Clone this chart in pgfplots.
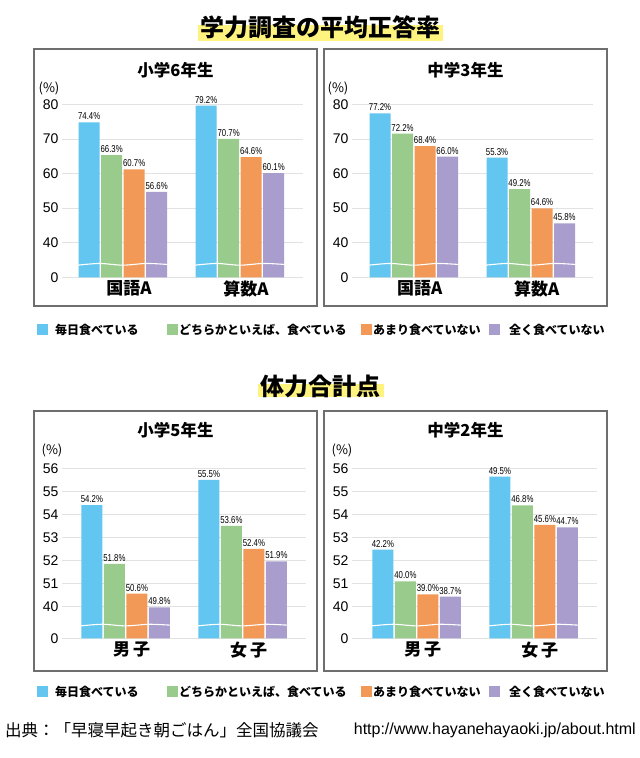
\documentclass[border=0pt]{standalone}
\usepackage{pgfplots}
\pgfplotsset{compat=1.18}
\usepackage{fontspec}
\setmainfont{Noto Sans CJK JP}
\newfontfamily\numfont{Liberation Sans}
\newfontfamily\narrowfont[FakeStretch=0.78]{Liberation Sans}
\definecolor{cblue}{RGB}{99,198,240}
\definecolor{cgreen}{RGB}{153,204,140}
\definecolor{corange}{RGB}{242,153,88}
\definecolor{cpurple}{RGB}{168,157,204}
\definecolor{hl}{RGB}{255,243,128}
\definecolor{framec}{RGB}{110,110,110}
\definecolor{gridc}{RGB}{226,226,226}
\pgfplotsset{
  panel/.style={
    anchor=south west,
    ybar=1.5bp, bar width=21bp,
    x=117bp,
    axis line style={draw=none},
    major tick length=0pt,
    xtick={0,1},
    ymajorgrids, grid style={gridc, line width=0.7bp},
    tick label style={font=\numfont\fontsize{14bp}{14bp}\selectfont},
    xticklabel style={font=\bfseries\fontsize{17bp}{17bp}\selectfont, xshift=6bp},
    /pgf/number format/assume math mode=true,
    nodes near coords,
    point meta=explicit symbolic,
    every node near coord/.append style={font=\narrowfont\fontsize{10bp}{10bp}\selectfont, inner sep=2.2bp, black},
  },
  toppanel/.style={panel, ymin=30, ymax=85, y=3.46bp,
    ytick={30,40,50,60,70,80}, yticklabels={0,40,50,60,70,80},
    xticklabels={国語A,算数A}},
  botpanel/.style={panel, ymin=48.61, ymax=56.7, y=23bp,
    ytick={48.61,50,51,52,53,54,55,56}, yticklabels={0,40,51,52,53,54,55,56},
    xticklabels={男\,子,女\,子}},
}
\newcommand{\legendrow}[1]{%
  \fill[cblue] (37bp,#1bp-5.5bp) rectangle (48bp,#1bp+5.5bp);
  \node[anchor=west, inner sep=0, font=\bfseries\fontsize{12bp}{12bp}\selectfont] at (55bp,#1bp) {毎日食べている};
  \fill[cgreen] (167bp,#1bp-5.5bp) rectangle (178bp,#1bp+5.5bp);
  \node[anchor=west, inner sep=0, font=\bfseries\fontsize{12bp}{12bp}\selectfont] at (179bp,#1bp) {どちらかといえば、食べている};
  \fill[corange] (361bp,#1bp-5.5bp) rectangle (372bp,#1bp+5.5bp);
  \node[anchor=west, inner sep=0, font=\bfseries\fontsize{12bp}{12bp}\selectfont] at (373bp,#1bp) {あまり食べていない};
  \fill[cpurple] (489bp,#1bp-5.5bp) rectangle (500bp,#1bp+5.5bp);
  \node[anchor=west, inner sep=0, font=\bfseries\fontsize{12bp}{12bp}\selectfont] at (509bp,#1bp) {全く食べていない};
}
\begin{document}
\begin{tikzpicture}
\path[use as bounding box, fill=white] (0bp,0bp) rectangle (640bp,758bp);
% titles
\fill[hl] (198bp,717bp) rectangle (443bp,733bp);
\node[font=\bfseries\fontsize{24bp}{24bp}\selectfont, inner sep=0] at (320bp,731bp) {学力調査の平均正答率};
\fill[hl] (258bp,361bp) rectangle (384bp,374bp);
\node[font=\bfseries\fontsize{24bp}{24bp}\selectfont, inner sep=0] at (320bp,372bp) {体力合計点};
% frames
\draw[framec, line width=1.5bp] (34bp,709bp) rectangle (317bp,452bp);
\draw[framec, line width=1.5bp] (324bp,709bp) rectangle (607bp,452bp);
\draw[framec, line width=1.5bp] (34bp,347bp) rectangle (317bp,87bp);
\draw[framec, line width=1.5bp] (324bp,347bp) rectangle (607bp,87bp);
% panel titles
\node[font=\bfseries\fontsize{16.5bp}{16.5bp}\selectfont] at (175.5bp,688bp) {小学6年生};
\node[font=\bfseries\fontsize{16.5bp}{16.5bp}\selectfont] at (465.5bp,688bp) {中学3年生};
\node[font=\bfseries\fontsize{16.5bp}{16.5bp}\selectfont] at (175.5bp,328bp) {小学5年生};
\node[font=\bfseries\fontsize{16.5bp}{16.5bp}\selectfont] at (465.5bp,328bp) {中学2年生};
\node[font=\fontsize{13bp}{13bp}\selectfont] at (49bp,670bp) {(\%)};
\node[font=\fontsize{13bp}{13bp}\selectfont] at (338bp,670bp) {(\%)};
\node[font=\fontsize{13bp}{13bp}\selectfont] at (52bp,308bp) {(\%)};
\node[font=\fontsize{13bp}{13bp}\selectfont] at (342bp,308bp) {(\%)};

% ---------- top left
\begin{axis}[toppanel, at={(62bp,480.7bp)}, xmin=-0.521, xmax=1.538]
\addplot[fill=cblue, draw=none] coordinates {(0,74.8) [74.4\%] (1,79.6) [79.2\%]};
\addplot[fill=cgreen, draw=none] coordinates {(0,65.3) [66.3\%] (1,70.0) [70.7\%]};
\addplot[fill=corange, draw=none] coordinates {(0,61.2) [60.7\%] (1,64.7) [64.6\%]};
\addplot[fill=cpurple, draw=none] coordinates {(0,54.7) [56.6\%] (1,60.1) [60.1\%]};
\draw[white, line width=1.1bp] plot[smooth] coordinates {(axis cs:-0.385,33.5) (axis cs:-0.2,34.0) (axis cs:0,33.5) (axis cs:0.2,34.0) (axis cs:0.385,33.7)};
\draw[white, line width=1.1bp] plot[smooth] coordinates {(axis cs:0.615,33.5) (axis cs:0.8,34.0) (axis cs:1,33.5) (axis cs:1.2,34.0) (axis cs:1.385,33.7)};
\end{axis}
% ---------- top right
\begin{axis}[toppanel, at={(352bp,480.7bp)}, xmin=-0.528, xmax=1.532]
\addplot[fill=cblue, draw=none] coordinates {(0,77.4) [77.2\%] (1,64.6) [55.3\%]};
\addplot[fill=cgreen, draw=none] coordinates {(0,71.5) [72.2\%] (1,55.5) [49.2\%]};
\addplot[fill=corange, draw=none] coordinates {(0,67.9) [68.4\%] (1,49.9) [64.6\%]};
\addplot[fill=cpurple, draw=none] coordinates {(0,64.9) [66.0\%] (1,45.6) [45.8\%]};
\draw[white, line width=1.1bp] plot[smooth] coordinates {(axis cs:-0.385,33.5) (axis cs:-0.2,34.0) (axis cs:0,33.5) (axis cs:0.2,34.0) (axis cs:0.385,33.7)};
\draw[white, line width=1.1bp] plot[smooth] coordinates {(axis cs:0.615,33.5) (axis cs:0.8,34.0) (axis cs:1,33.5) (axis cs:1.2,34.0) (axis cs:1.385,33.7)};
\end{axis}
% ---------- bottom left
\begin{axis}[botpanel, at={(62bp,119.7bp)}, xmin=-0.544, xmax=1.541]
\addplot[fill=cblue, draw=none] coordinates {(0,54.4) [54.2\%] (1,55.5) [55.5\%]};
\addplot[fill=cgreen, draw=none] coordinates {(0,51.85) [51.8\%] (1,53.5) [53.6\%]};
\addplot[fill=corange, draw=none] coordinates {(0,50.55) [50.6\%] (1,52.5) [52.4\%]};
\addplot[fill=cpurple, draw=none] coordinates {(0,49.95) [49.8\%] (1,51.95) [51.9\%]};
\draw[white, line width=1.1bp] plot[smooth] coordinates {(axis cs:-0.385,49.15) (axis cs:-0.2,49.22) (axis cs:0,49.15) (axis cs:0.2,49.22) (axis cs:0.385,49.18)};
\draw[white, line width=1.1bp] plot[smooth] coordinates {(axis cs:0.615,49.15) (axis cs:0.8,49.22) (axis cs:1,49.15) (axis cs:1.2,49.22) (axis cs:1.385,49.18)};
\end{axis}
% ---------- bottom right
\begin{axis}[botpanel, at={(352bp,119.7bp)}, xmin=-0.553, xmax=1.541]
\addplot[fill=cblue, draw=none] coordinates {(0,52.46) [42.2\%] (1,55.64) [49.5\%]};
\addplot[fill=cgreen, draw=none] coordinates {(0,51.09) [40.0\%] (1,54.39) [46.8\%]};
\addplot[fill=corange, draw=none] coordinates {(0,50.52) [39.0\%] (1,53.54) [45.6\%]};
\addplot[fill=cpurple, draw=none] coordinates {(0,50.42) [38.7\%] (1,53.43) [44.7\%]};
\draw[white, line width=1.1bp] plot[smooth] coordinates {(axis cs:-0.385,49.15) (axis cs:-0.2,49.22) (axis cs:0,49.15) (axis cs:0.2,49.22) (axis cs:0.385,49.18)};
\draw[white, line width=1.1bp] plot[smooth] coordinates {(axis cs:0.615,49.15) (axis cs:0.8,49.22) (axis cs:1,49.15) (axis cs:1.2,49.22) (axis cs:1.385,49.18)};
\end{axis}
% legends
\legendrow{428}
\legendrow{66}
% footer
\node[anchor=west, inner sep=0, font=\fontsize{16.5bp}{16.5bp}\selectfont] at (5bp,28bp) {出典：「早寝早起き朝ごはん」全国協議会};
\node[anchor=east, inner sep=0, font=\numfont\fontsize{16bp}{16bp}\selectfont] at (636bp,28bp) {http://www.hayanehayaoki.jp/about.html};
\end{tikzpicture}
\end{document}
